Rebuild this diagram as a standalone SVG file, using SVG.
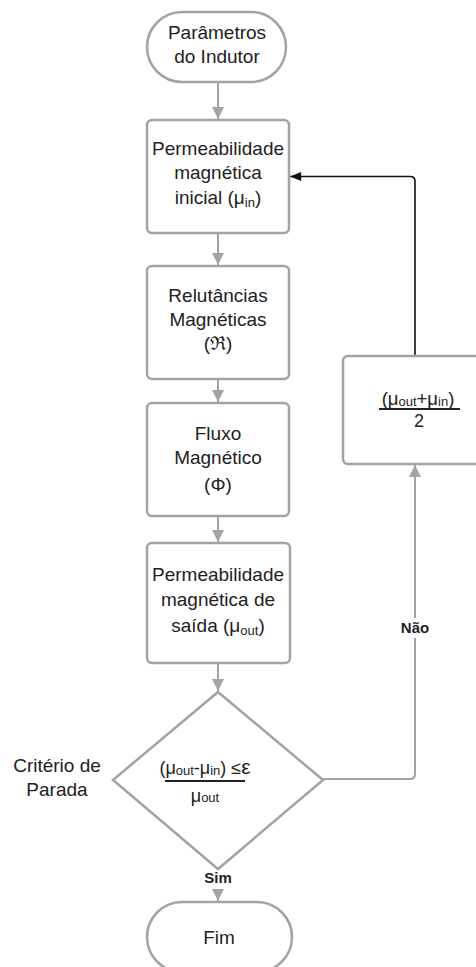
<svg xmlns="http://www.w3.org/2000/svg" width="476" height="967" viewBox="0 0 476 967">
  <style>
    .shape { fill: #ffffff; stroke: #a3a3a3; stroke-width: 2.5; }
    .lbl { font-family: "Liberation Sans", Arial, sans-serif; font-size: 19px; fill: #222222; text-anchor: middle; }
    .sub { font-size: 13px; }
    .small { font-family: "Liberation Sans", Arial, sans-serif; font-size: 15px; font-weight: bold; fill: #222222; text-anchor: middle; }
    .flow { fill: none; stroke: #a3a3a3; stroke-width: 2; }
    .back { fill: none; stroke: #111111; stroke-width: 1.6; }
    .bar { stroke: #222222; stroke-width: 2; }
  </style>
  <defs>
    <marker id="arrowGray" viewBox="0 0 10 10" refX="10" refY="5" markerWidth="6" markerHeight="6" markerUnits="strokeWidth" orient="auto">
      <path d="M0,0 L10,5 L0,10 z" fill="#a3a3a3"/>
    </marker>
    <marker id="arrowBlack" viewBox="0 0 10 10" refX="10" refY="5" markerWidth="8" markerHeight="7" markerUnits="strokeWidth" orient="auto">
      <path d="M0,1 L10,5 L0,9 z" fill="#111111"/>
    </marker>
  </defs>
  <rect width="476" height="967" fill="#ffffff"/>

  <!-- connectors -->
  <g id="connectors">
    <line class="flow" x1="218" y1="82" x2="218" y2="119" marker-end="url(#arrowGray)"/>
    <line class="flow" x1="218" y1="233" x2="218" y2="265" marker-end="url(#arrowGray)"/>
    <line class="flow" x1="218" y1="379" x2="218" y2="402" marker-end="url(#arrowGray)"/>
    <line class="flow" x1="218" y1="516" x2="218" y2="542" marker-end="url(#arrowGray)"/>
    <line class="flow" x1="218" y1="663" x2="218" y2="691" marker-end="url(#arrowGray)"/>
    <line class="flow" x1="218" y1="889" x2="218" y2="901" marker-end="url(#arrowGray)"/>
    <path class="flow" d="M323,779 H410 Q415,779 415,774 V465" marker-end="url(#arrowGray)"/>
    <path class="back" d="M415,356 V181 Q415,176.5 410,176.5 H290" marker-end="url(#arrowBlack)"/>
    <rect x="398" y="618" width="34" height="20" fill="#ffffff"/>
    <text class="small" x="415" y="633">Não</text>
    <text class="small" x="218" y="883">Sim</text>
  </g>

  <!-- start terminal -->
  <g id="start">
    <rect class="shape" x="147" y="12" width="139" height="70" rx="35"/>
    <text class="lbl" x="217" y="39">Parâmetros</text>
    <text class="lbl" x="217" y="63">do Indutor</text>
  </g>

  <!-- initial permeability -->
  <g id="mu-in">
    <rect class="shape" x="147" y="120" width="142" height="113" rx="5"/>
    <text class="lbl" x="218" y="155">Permeabilidade</text>
    <text class="lbl" x="218" y="179">magnética</text>
    <text class="lbl" x="218" y="204">inicial (μ<tspan class="sub" dy="3">in</tspan><tspan dy="-3">)</tspan></text>
  </g>

  <!-- reluctances -->
  <g id="reluctance">
    <rect class="shape" x="147" y="266" width="142" height="113" rx="5"/>
    <text class="lbl" x="218" y="302">Relutâncias</text>
    <text class="lbl" x="218" y="326">Magnéticas</text>
    <text class="lbl" x="218" y="350">(ℜ)</text>
  </g>

  <!-- magnetic flux -->
  <g id="flux">
    <rect class="shape" x="147" y="403" width="142" height="113" rx="5"/>
    <text class="lbl" x="218" y="440">Fluxo</text>
    <text class="lbl" x="218" y="464">Magnético</text>
    <text class="lbl" x="218" y="491">(Φ)</text>
  </g>

  <!-- output permeability -->
  <g id="mu-out">
    <rect class="shape" x="147" y="543" width="143" height="120" rx="5"/>
    <text class="lbl" x="218" y="581">Permeabilidade</text>
    <text class="lbl" x="218" y="606">magnética de</text>
    <text class="lbl" x="218" y="632">saída (μ<tspan class="sub" dy="3">out</tspan><tspan dy="-3">)</tspan></text>
  </g>

  <!-- stop criterion -->
  <g id="criterion">
    <polygon class="shape" points="218,692 323,780 218,869 113,780"/>
    <text class="lbl" x="205" y="774" style="font-size:18px">(μ<tspan class="sub" dy="1">out</tspan><tspan dy="-1">-μ</tspan><tspan class="sub" dy="1">in</tspan><tspan dy="-1">) ≤</tspan><tspan style="font-size:21px">ε</tspan></text>
    <line class="bar" x1="165" y1="781" x2="245" y2="781"/>
    <text class="lbl" x="205" y="802" style="font-size:18px">μ<tspan class="sub">out</tspan></text>
    <text class="lbl" x="57" y="772">Critério de</text>
    <text class="lbl" x="57" y="796">Parada</text>
  </g>

  <!-- averaging step -->
  <g id="average">
    <rect class="shape" x="343" y="356" width="146" height="108" rx="5"/>
    <text class="lbl" x="418" y="405" style="font-size:18.5px">(μ<tspan class="sub" dy="1">out</tspan><tspan dy="-1">+μ</tspan><tspan class="sub" dy="1">in</tspan><tspan dy="-1">)</tspan></text>
    <line class="bar" x1="379" y1="409" x2="460" y2="409"/>
    <text class="lbl" x="419" y="427" style="font-size:18px">2</text>
  </g>

  <!-- end terminal -->
  <g id="end">
    <rect class="shape" x="147" y="902" width="145" height="70" rx="35"/>
    <text class="lbl" x="219" y="944">Fim</text>
  </g>
</svg>
